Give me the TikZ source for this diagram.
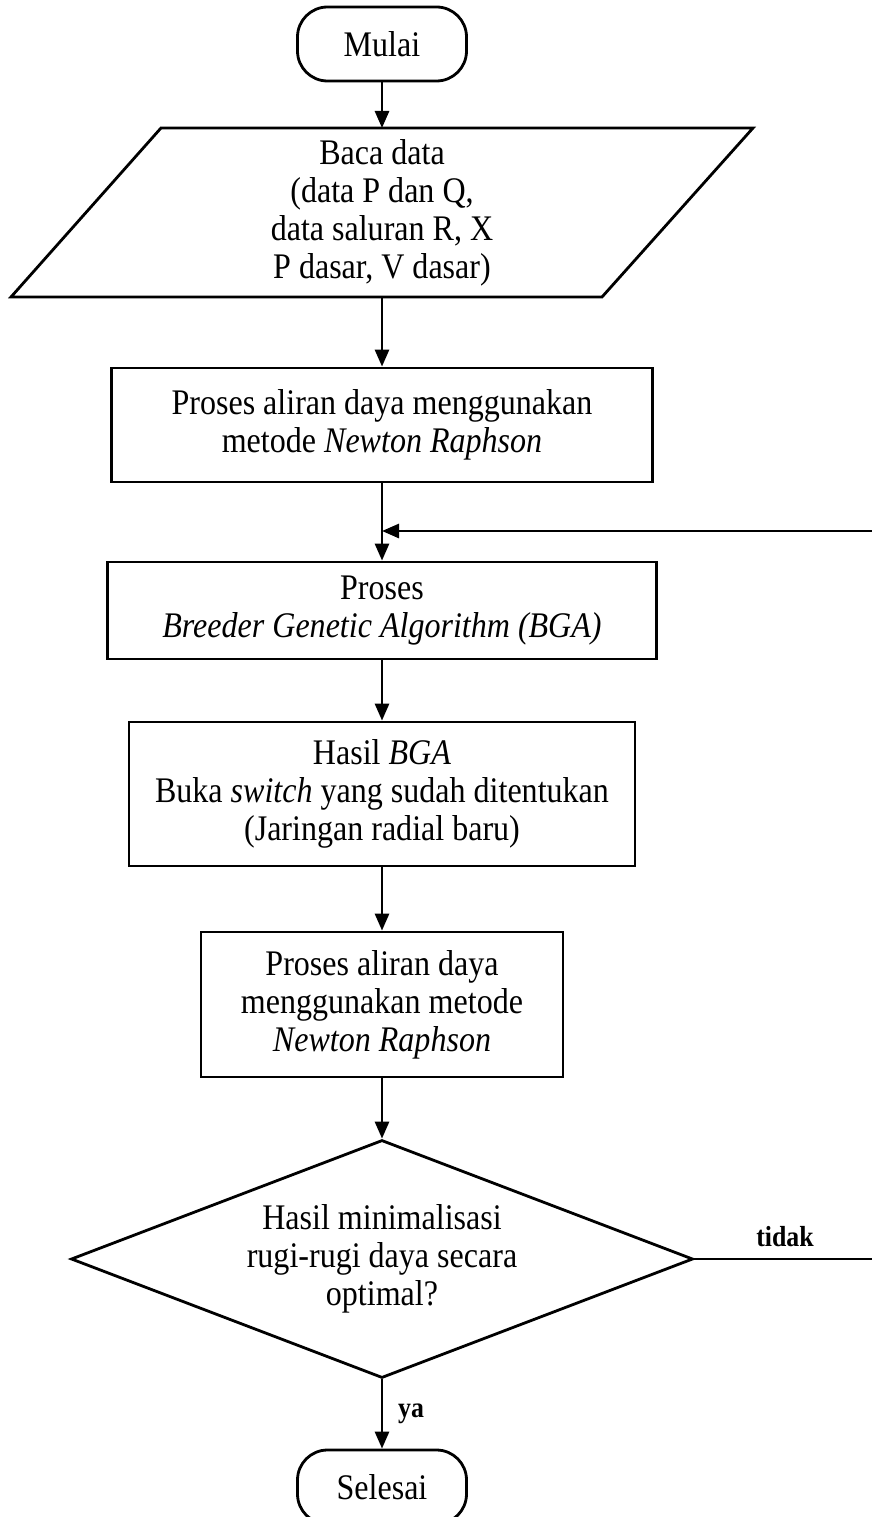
\documentclass[tikz,border=0pt]{standalone}
\usepackage{fontspec}
\setmainfont[FakeStretch=0.89]{Liberation Serif}
\usetikzlibrary{arrows.meta,shapes.geometric}
\begin{document}
\begin{tikzpicture}[x=1pt,y=-1pt,
  line width=2.8pt,
  base/.style={align=center, font=\fontsize{36}{38}\selectfont, inner sep=0pt},
  proc/.style={base, draw, rectangle},
  term/.style={base, draw, rounded corners=30pt, minimum width=169pt, minimum height=74pt},
  io/.style={base, outer sep=0pt, minimum width=440pt, minimum height=169pt},
  decision/.style={base, draw, diamond, aspect=2.6, minimum width=622pt, minimum height=238pt},
  flow/.style={-{Triangle[length=17pt,width=14pt]}},
  lbl/.style={font=\fontsize{29}{32}\selectfont\bfseries, inner sep=0pt}
]
\useasboundingbox (0,0) rectangle (872,1517);
\fill[white] (0,0) rectangle (872,1517);
\clip (0,0) rectangle (872,1517);

% flowchart steps
\node[term] (start) at (382,44) {Mulai};
\node[io] (read) at (382,212.5) {Baca data\\(data P dan Q,\\data saluran R, X\\P dasar, V dasar)};
\draw ([xshift=-221pt]read.north) -- ([xshift=371pt]read.north)
   -- ([xshift=220pt]read.south) -- ([xshift=-371pt]read.south) -- cycle;
\node[proc, minimum width=541pt, minimum height=114pt] (nr1) at (382,425)
  {Proses aliran daya menggunakan\\metode \textit{Newton Raphson}};
\node[proc, minimum width=549pt, minimum height=97pt] (bga) at (382,610.5)
  {Proses\\\textit{Breeder Genetic Algorithm (BGA)}};
\node[proc, minimum width=506pt, minimum height=144pt] (hasil) at (382,794)
  {Hasil \textit{BGA}\\Buka \textit{switch} yang sudah ditentukan\\(Jaringan radial baru)};
\node[proc, minimum width=362pt, minimum height=145pt] (nr2) at (382,1004.5)
  {Proses aliran daya\\menggunakan metode\\\textit{Newton Raphson}};
\node[decision] (dec) at (382,1259)
  {Hasil minimalisasi\\rugi-rugi daya secara\\optimal?};
\node[term] (stop) at (382,1487) {Selesai};

% loop-back helpers
\coordinate (join) at (382,531);
\coordinate (rlow) at (876,1259);
\coordinate (rhigh) at (876,531);

% connectors
\draw[flow] (start.south) -- (read.north);
\draw[flow] (read.south) -- (nr1.north);
\draw (nr1.south) -- (join);
\draw[flow] (join) -- (bga.north);
\draw[flow] (bga.south) -- (hasil.north);
\draw[flow] (hasil.south) -- (nr2.north);
\draw[flow] (nr2.south) -- (dec.north);
\draw[flow] (dec.south) -- (stop.north);
\draw (dec.east) -- (rlow) -- (rhigh);
\draw[flow] (rhigh) -- (join);

% branch labels
\node[lbl] (lyes) at (411,1414) {ya};
\node[lbl] (lno) at (785,1237) {tidak};
\end{tikzpicture}
\end{document}
